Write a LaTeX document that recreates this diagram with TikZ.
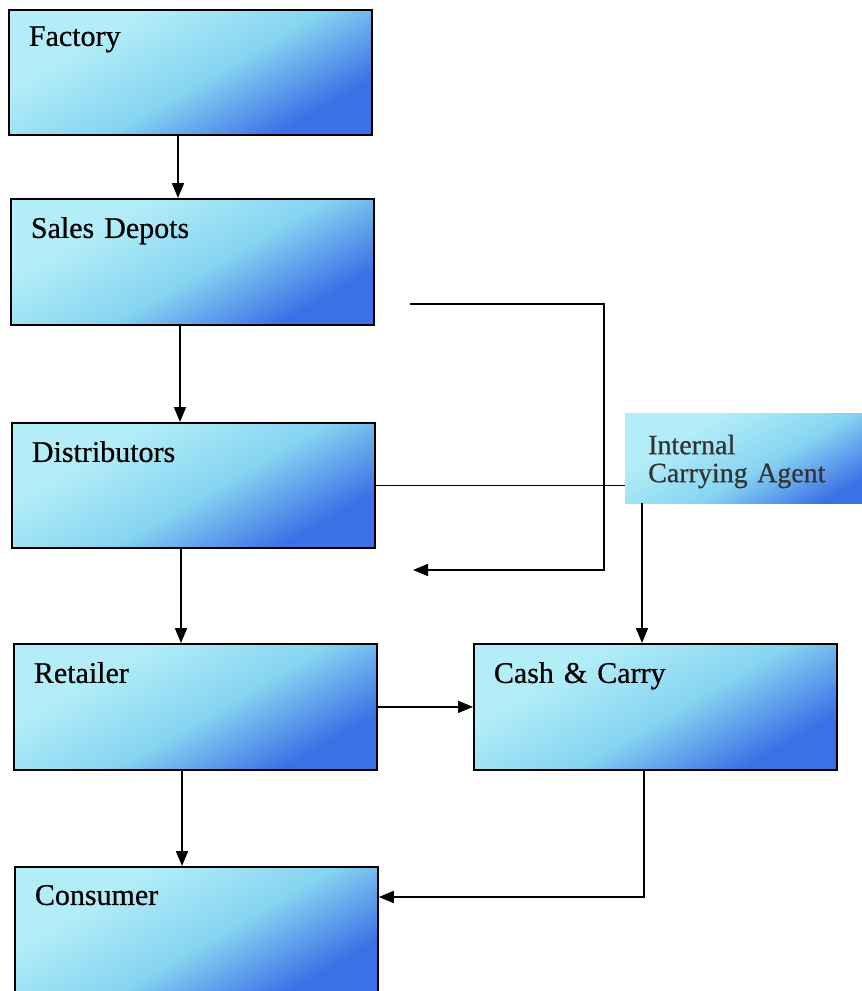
\documentclass[tikz,border=0pt]{standalone}
\usepackage{fontspec}
\setmainfont{Liberation Serif}[FakeBold=0.6]
\usetikzlibrary{arrows.meta,calc}
\definecolor{cLight}{HTML}{B2EDF8}
\definecolor{cMid}{HTML}{86D4F1}
\definecolor{cDark}{HTML}{3C70E6}
\pgfdeclareverticalshading{boxshade}{100bp}{color(0bp)=(cDark); color(27bp)=(cDark); color(47bp)=(cMid); color(68bp)=(cLight); color(100bp)=(cLight)}
\tikzset{
  boxfill/.style={shading=boxshade, shading angle=30},
  stagebox/.style={boxfill, draw=black, line width=1.8pt, anchor=north west,
    inner xsep=20pt, inner ysep=0pt, text width=323pt, align=left,
    text height=38pt, text depth=88pt, font=\fontsize{30}{27}\selectfont},
  agentbox/.style={boxfill, anchor=north west, inner xsep=23pt, inner ysep=0pt,
    text width=220pt, align=left, text height=41pt, text depth=49pt,
    text=black!80, font=\fontsize{28}{28}\selectfont},
  link/.style={draw=black, line width=1.7pt},
  arr/.style={link, -{Triangle[length=15pt,width=12pt]}}
}
\begin{document}
\begin{tikzpicture}[x=1pt,y=-1pt]
\clip (0,0) rectangle (862,991);
\fill[white] (0,0) rectangle (862,991);
% boxes
\node[stagebox, text height=36pt, text depth=89pt] (factory) at (8,9) {Factory};
\node[stagebox, text height=39pt, text depth=87pt] (sales) at (10,198) {Sales Depots};
\node[stagebox, text height=39pt, text depth=86pt] (dist) at (11,422) {Distributors};
\node[stagebox, text height=39pt, text depth=87pt] (ret) at (13,643) {Retailer};
\node[stagebox, text height=38pt, text depth=92pt] (cons) at (14,866) {Consumer};
\node[stagebox, text height=39pt, text depth=87pt] (cash) at (473,643) {Cash \& Carry};
\node[agentbox] (ica) at (625,413) {Internal\\Carrying Agent};
% column positions
\coordinate (xa) at (178,0);
\coordinate (xb) at (180,0);
\coordinate (xc) at (181,0);
\coordinate (xd) at (182,0);
\coordinate (xv) at (604,0);
\coordinate (xi) at (642,0);
\coordinate (xk) at (644,0);
\coordinate (yk) at (0,897);
\coordinate (fs) at (410,304);
\coordinate (fe) at (413,570);
% connectors
\draw[arr] (factory.south -| xa) -- (sales.north -| xa);
\draw[arr] (sales.south -| xb) -- (dist.north -| xb);
\draw[arr] (dist.south -| xc) -- (ret.north -| xc);
\draw[arr] (ret.south -| xd) -- (cons.north -| xd);
\draw[arr] (fs) -- (fs -| xv) -- (fe -| xv) -- (fe);
\draw[link] (dist.east) -- (dist.east -| ica.west);
\draw[arr] (ica.south -| xi) -- (cash.north -| xi);
\draw[arr] (ret.east) -- (cash.west);
\draw[arr] (cash.south -| xk) -- (xk |- yk) -- (cons.east |- yk);
\end{tikzpicture}
\end{document}
